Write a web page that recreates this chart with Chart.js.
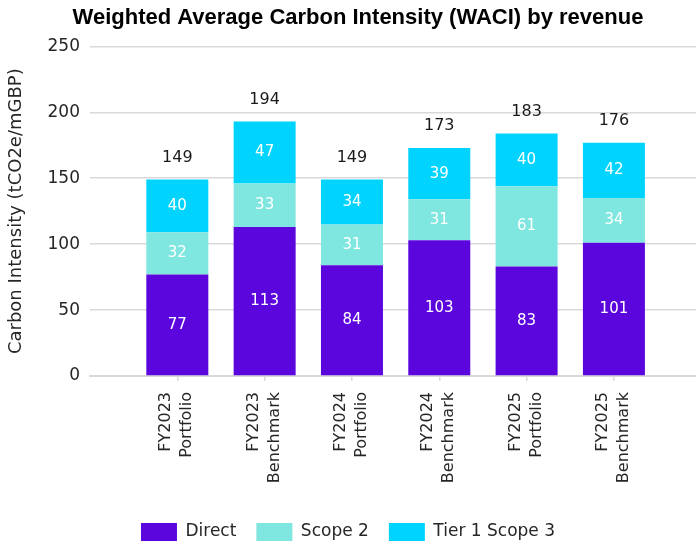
<!DOCTYPE html>
<html lang="en">
<head>
    <meta charset="UTF-8" />
    <title>WACI by revenue</title>
    <script src="https://cdn.jsdelivr.net/npm/chart.js"></script>
    <style>
        html, body { margin: 0; padding: 0; background: #fff; }
        #wrap { width: 696px; height: 545px; }
    </style>
</head>
<body>
    <div id="wrap"><canvas id="waciChart"></canvas></div>

    <script>
        // chart data
        const categories = [
            ['FY2023', 'Portfolio'],
            ['FY2023', 'Benchmark'],
            ['FY2024', 'Portfolio'],
            ['FY2024', 'Benchmark'],
            ['FY2025', 'Portfolio'],
            ['FY2025', 'Benchmark']
        ];
        const direct = [77, 113, 84, 103, 83, 101];
        const scope2 = [32, 33, 31, 31, 61, 34];
        const tier1Scope3 = [40, 47, 34, 39, 40, 42];
        const totals = [149, 194, 149, 173, 183, 176];
        const yTicks = [0, 50, 100, 150, 200, 250];

        const FONT = '"DejaVu Sans", sans-serif';

        function toPoints(values) {
            return values.map((v, i) => ({ x: i, y: v }));
        }

        // segment values inside the bars, totals on top
        const barLabels = {
            id: 'barLabels',
            afterLayout(chart) {
                // title sits a little right of centre in the original
                chart.titleBlock.left += 20;
            },
            afterDatasetsDraw(chart) {
                const ctx = chart.ctx;
                ctx.save();
                ctx.textAlign = 'center';
                ctx.textBaseline = 'middle';
                ctx.font = '15px ' + FONT;
                ctx.fillStyle = '#ffffff';
                chart.data.datasets.forEach((ds, di) => {
                    chart.getDatasetMeta(di).data.forEach((bar, i) => {
                        ctx.fillText(ds.data[i].y, bar.x, (bar.y + bar.base) / 2);
                    });
                });
                const topBars = chart.getDatasetMeta(chart.data.datasets.length - 1).data;
                ctx.font = '16px ' + FONT;
                ctx.fillStyle = '#1a1a1a';
                topBars.forEach((bar, i) => {
                    ctx.fillText(totals[i], bar.x, bar.y - 22);
                });
                ctx.restore();
            }
        };

        const ctx = document.getElementById('waciChart').getContext('2d');
        new Chart(ctx, {
            type: 'bar',
            data: {
                datasets: [
                    { label: 'Direct', data: toPoints(direct), backgroundColor: '#5C06DE' },
                    { label: 'Scope 2', data: toPoints(scope2), backgroundColor: '#7FE7DF' },
                    { label: 'Tier 1 Scope 3', data: toPoints(tier1Scope3), backgroundColor: '#00D4FE' }
                ]
            },
            options: {
                responsive: true,
                maintainAspectRatio: false,
                animation: false,
                barPercentage: 0.71,
                categoryPercentage: 1,
                layout: { padding: { left: 0, right: 0, top: 0, bottom: -6 } },
                plugins: {
                    title: {
                        display: true,
                        text: 'Weighted Average Carbon Intensity (WACI) by revenue',
                        color: '#000',
                        font: { family: '"Liberation Sans", sans-serif', size: 22, weight: 'bold' },
                        padding: { top: 5, bottom: 15 }
                    },
                    legend: {
                        position: 'bottom',
                        labels: {
                            boxWidth: 36,
                            boxHeight: 18,
                            padding: 20,
                            color: '#262626',
                            font: { family: FONT, size: 17 }
                        }
                    },
                    tooltip: { enabled: false }
                },
                scales: {
                    x: {
                        type: 'linear',
                        stacked: true,
                        offset: false,
                        min: -1,
                        max: 5.94,
                        afterBuildTicks: (s) => { s.ticks = categories.map((c, i) => ({ value: i })); },
                        afterFit: (s) => { s.height = 127; },
                        ticks: {
                            autoSkip: false,
                            minRotation: 90,
                            maxRotation: 90,
                            padding: 11,
                            labelOffset: -11,
                            color: '#262626',
                            font: { family: FONT, size: 16, lineHeight: 1.3 },
                            callback: (v) => categories[v]
                        },
                        grid: {
                            offset: false,
                            drawOnChartArea: false,
                            drawTicks: true,
                            tickLength: 5,
                            color: '#d9d9d9',
                            lineWidth: 1.5
                        },
                        border: { display: true, color: '#d9d9d9', width: 2 }
                    },
                    y: {
                        stacked: true,
                        min: yTicks[0],
                        max: yTicks[yTicks.length - 1],
                        afterFit: (s) => { s.width = 90; },
                        ticks: {
                            stepSize: yTicks[1] - yTicks[0],
                            padding: 10,
                            color: '#262626',
                            font: { family: FONT, size: 17 }
                        },
                        grid: { drawTicks: false, color: '#d9d9d9', lineWidth: 1.5 },
                        border: { display: false },
                        title: {
                            display: true,
                            text: 'Carbon Intensity (tCO2e/mGBP)',
                            color: '#262626',
                            font: { family: FONT, size: 18 },
                            padding: { top: 6, bottom: 0 }
                        }
                    }
                }
            },
            plugins: [barLabels]
        });
    </script>
</body>
</html>
